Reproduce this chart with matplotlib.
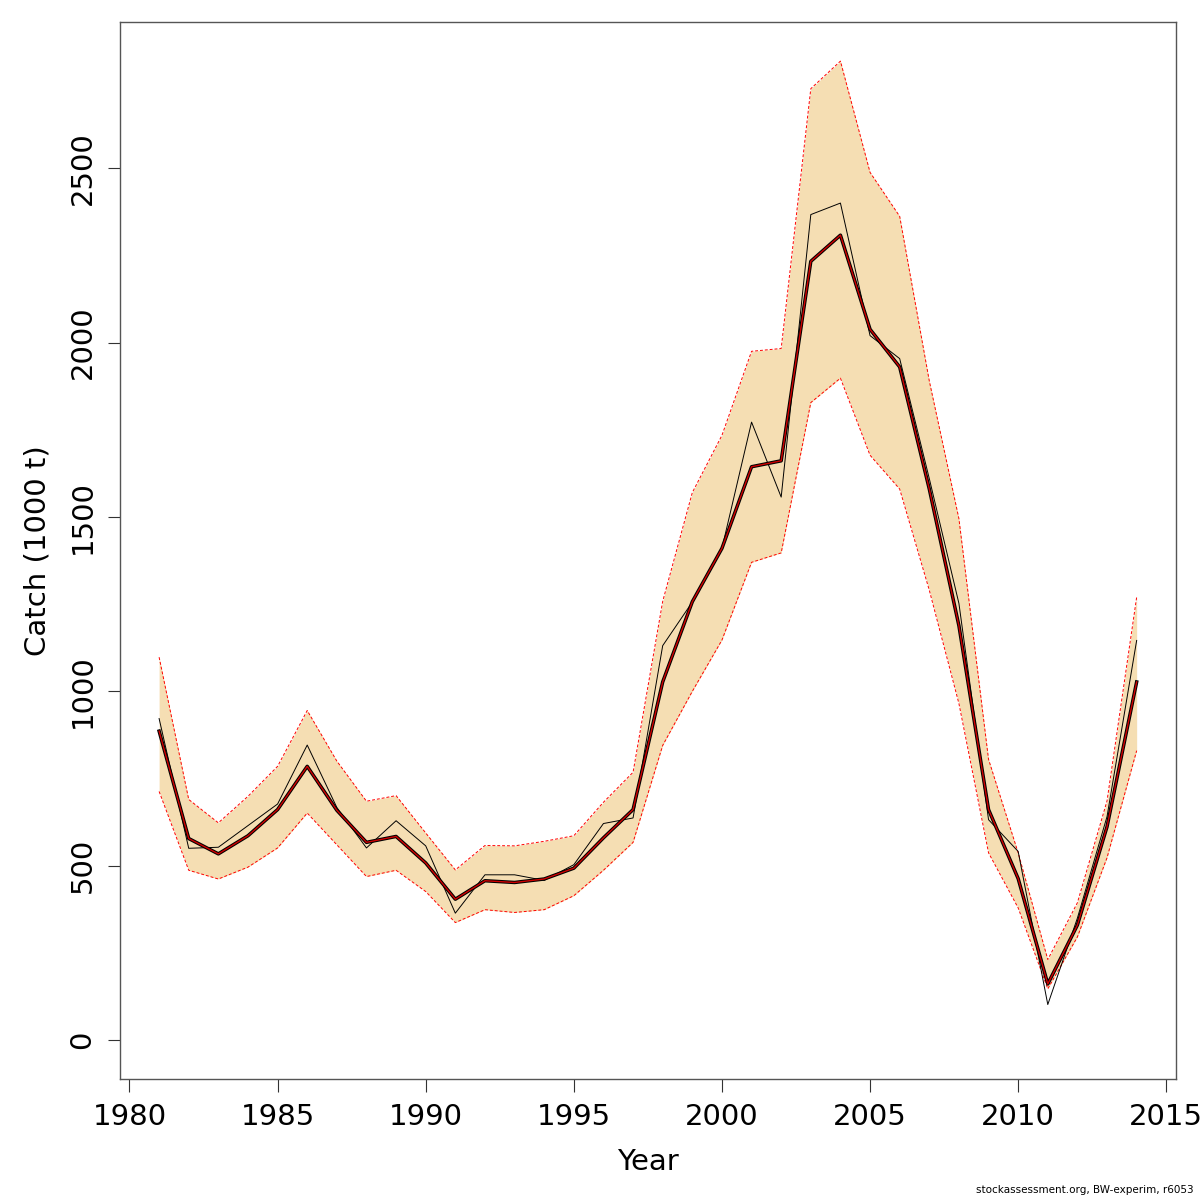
import matplotlib
matplotlib.use("Agg")
import matplotlib.pyplot as plt

# catch estimates (1000 t)
years = list(range(1981, 2015))
estimate = [886, 578, 534, 586, 661, 785, 659, 567, 584, 508, 404, 457, 452, 462,
            493, 580, 661, 1027, 1257, 1410, 1644, 1661, 2233, 2308, 2038, 1930,
            1580, 1188, 661, 463, 161, 330, 612, 1027]
observed = [922, 550, 553, 615, 677, 846, 667, 551, 629, 557, 364, 474, 474, 458,
            503, 621, 637, 1131, 1256, 1410, 1772, 1557, 2367, 2400, 2020, 1954,
            1610, 1252, 632, 541, 102, 350, 641, 1146]
upper = [1098, 690, 623, 699, 785, 945, 800, 685, 701, 594, 488, 558, 557, 570,
         586, 682, 768, 1258, 1570, 1734, 1975, 1983, 2728, 2807, 2488, 2362,
         1890, 1495, 805, 537, 231, 394, 686, 1270]
lower = [713, 487, 462, 496, 551, 651, 560, 469, 487, 426, 337, 374, 366, 374,
         414, 487, 567, 845, 1000, 1147, 1370, 1397, 1828, 1898, 1677, 1580,
         1290, 965, 537, 379, 147, 296, 523, 830]

xticks = [1980, 1985, 1990, 1995, 2000, 2005, 2010, 2015]
yticks = [0, 500, 1000, 1500, 2000, 2500]

fig = plt.figure(figsize=(12, 12), dpi=100)
ax = fig.add_axes([0.1, 0.1006, 0.8798, 0.8811])

ax.fill_between(years, lower, upper, color="wheat", linewidth=0)
ax.plot(years, upper, "--", color="red", linewidth=0.7, dashes=(3, 2))
ax.plot(years, lower, "--", color="red", linewidth=0.7, dashes=(3, 2))
ax.plot(years, observed, color="black", linewidth=0.7)
ax.plot(years, estimate, color="black", linewidth=2.5)
ax.plot(years, estimate, color="#d00000", linewidth=1.0)

# R style 4% padding, y limits include zero
yl = (0, max(upper))
pad = 0.04 * (yl[1] - yl[0])
ax.set_ylim(yl[0] - pad, yl[1] + pad)
xpad = 0.04 * (years[-1] - years[0])
ax.set_xlim(years[0] - xpad, years[-1] + xpad)

ax.set_xticks(xticks)
ax.set_yticks(yticks)
ax.set_yticklabels([str(v) for v in yticks], rotation=90, va="center")
ax.tick_params(direction="out", length=9, width=0.8, labelsize=21, pad=8, color="#333333")

for s in ax.spines.values():
    s.set_color("#555555")
    s.set_linewidth(1.0)

ax.set_xlabel("Year", fontsize=21, labelpad=12)
ax.set_ylabel("Catch (1000 t)", fontsize=21, labelpad=12)

fig.text(0.995, 0.004, "stockassessment.org, BW-experim, r6053", fontsize=7.5,
         ha="right", va="bottom")

plt.savefig("out.png", dpi=100)
